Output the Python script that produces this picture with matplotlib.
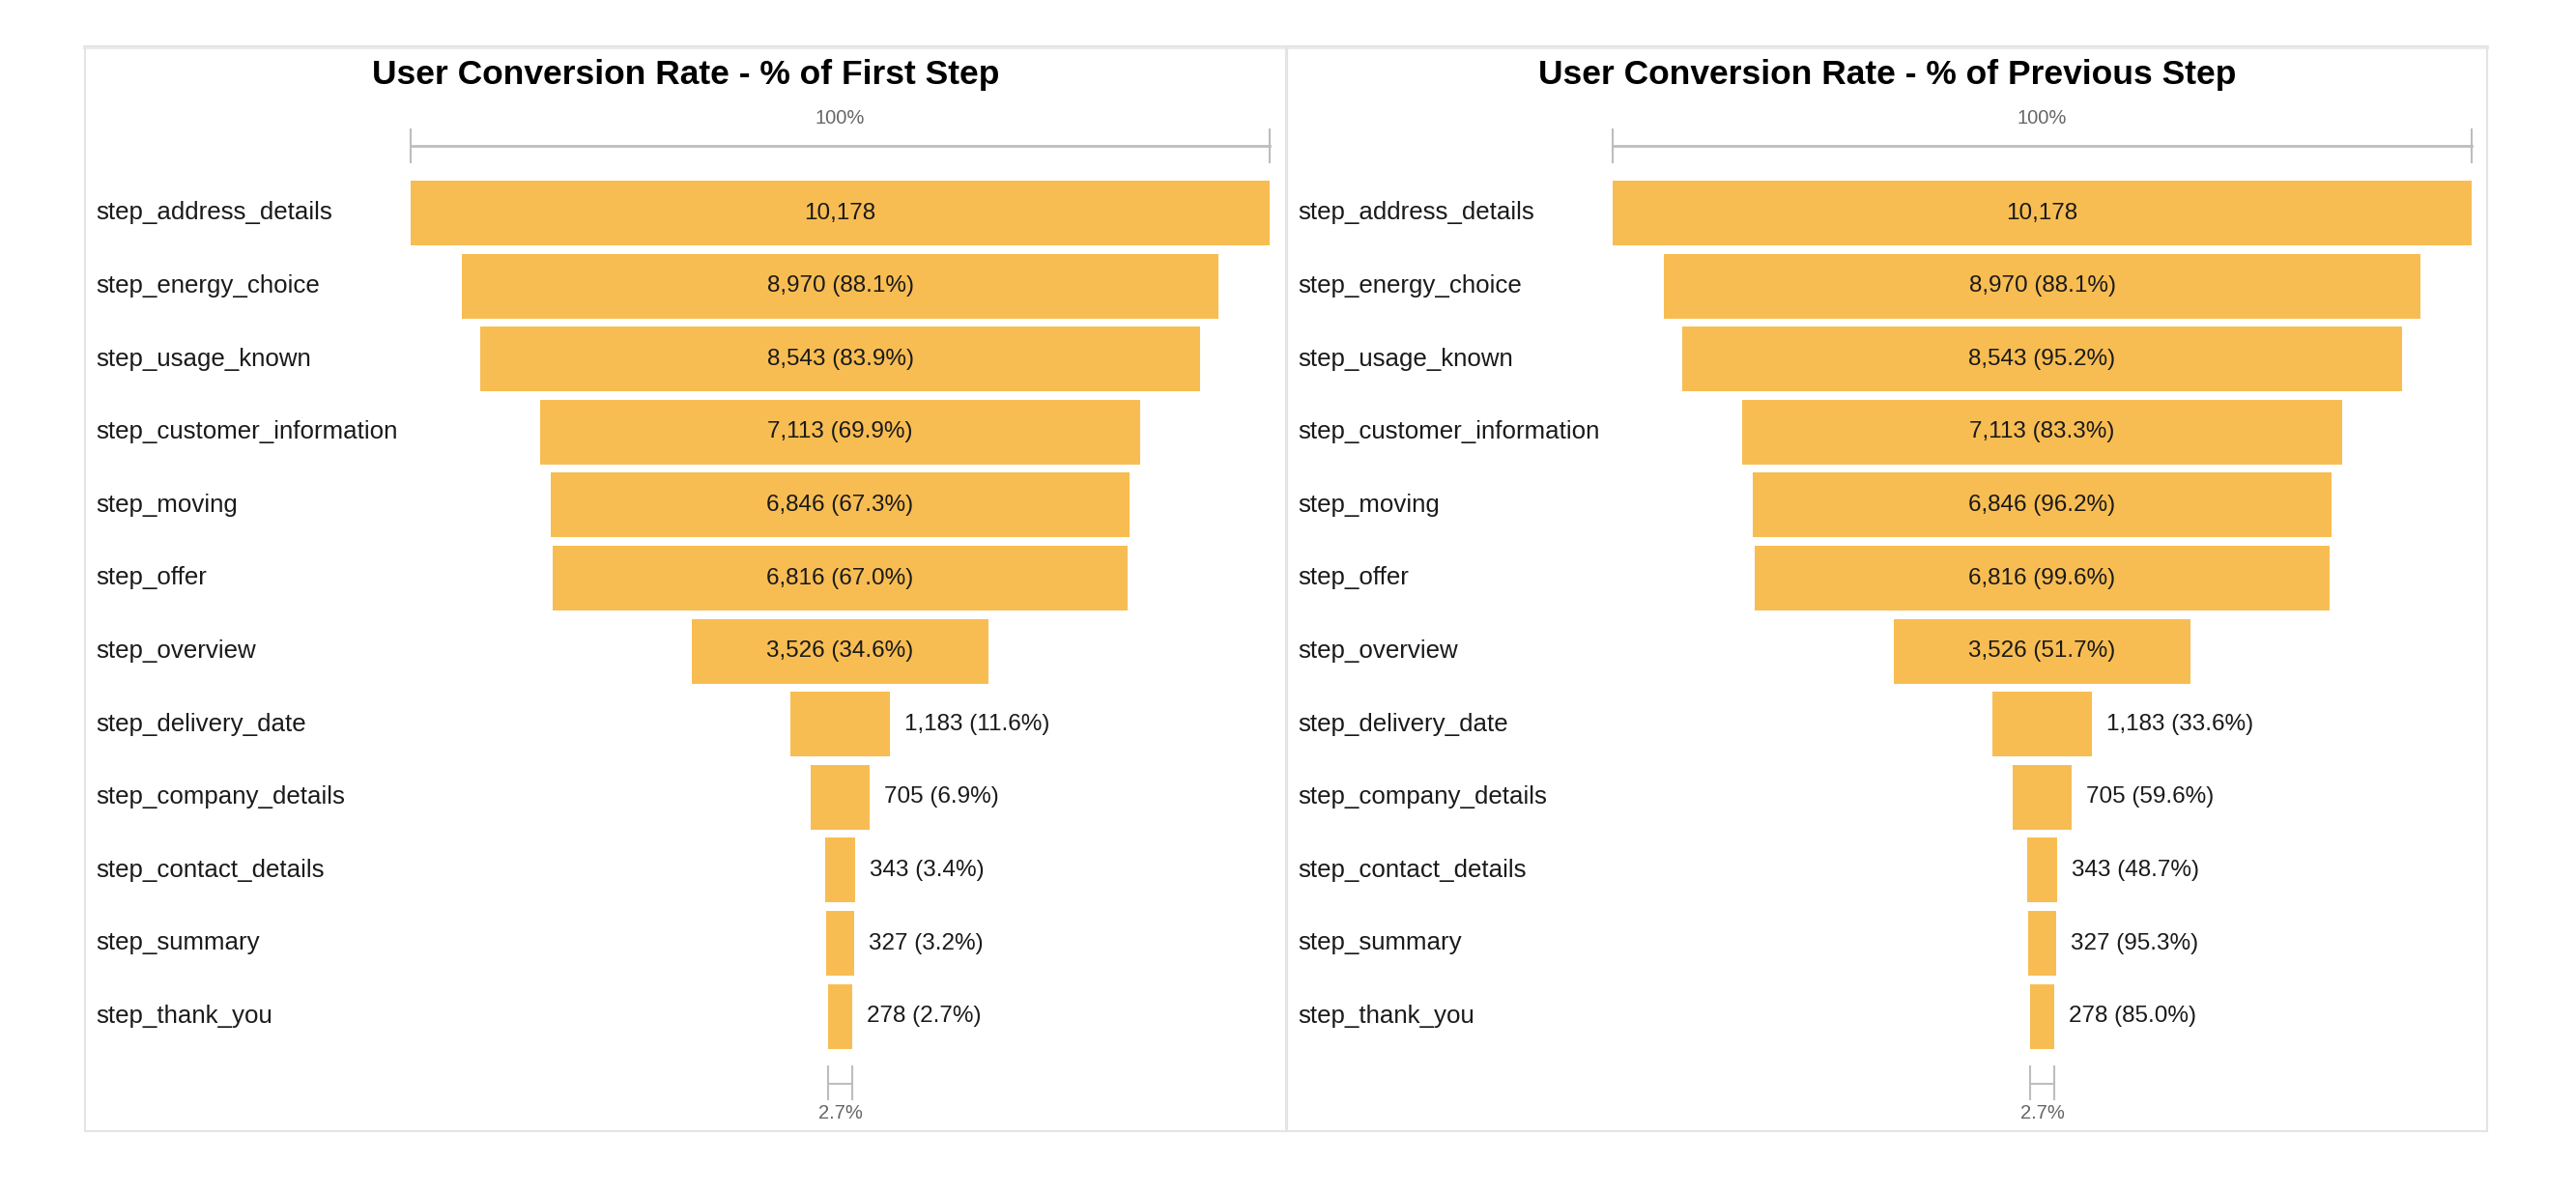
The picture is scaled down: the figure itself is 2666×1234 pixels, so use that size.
import matplotlib
matplotlib.use("Agg")
import matplotlib.pyplot as plt
from matplotlib.patches import Rectangle
from matplotlib.transforms import blended_transform_factory

plt.rcParams['font.family'] = ['Liberation Sans', 'DejaVu Sans']

steps = ["step_address_details", "step_energy_choice", "step_usage_known",
         "step_customer_information", "step_moving", "step_offer", "step_overview",
         "step_delivery_date", "step_company_details", "step_contact_details",
         "step_summary", "step_thank_you"]
counts = [10178, 8970, 8543, 7113, 6846, 6816, 3526, 1183, 705, 343, 327, 278]
pct_first = [100.0, 88.1, 83.9, 69.9, 67.3, 67.0, 34.6, 11.6, 6.9, 3.4, 3.2, 2.7]
pct_prev = [100.0, 88.1, 95.2, 83.3, 96.2, 99.6, 51.7, 33.6, 59.6, 48.7, 95.3, 85.0]
titles = ["User Conversion Rate - % of First Step", "User Conversion Rate - % of Previous Step"]

W, H = 2666, 1234
BAR = "#F8BD52"
fig = plt.figure(figsize=(W / 100, H / 100), dpi=100)
fig.patch.set_facecolor("white")

def fx(px):
    return px / W

def fy(py):
    return 1 - py / H

# pixel layout
y0, pitch = 220.5, 75.6
ax_top, ax_bot = 110, 1172
panels = [dict(frame=(88, 1331), bar=(425, 1314), label=99),
          dict(frame=(1332, 2574), bar=(1669, 2558), label=1343)]

def yi(py):
    return (py - y0) / pitch

for p, title, pcts in zip(panels, titles, [pct_first, pct_prev]):
    # panel frame
    fl, fr = p["frame"]
    fig.patches.append(Rectangle((fx(fl), fy(1171)), fx(fr - fl), (1171 - 48) / H,
                                 transform=fig.transFigure, fill=False,
                                 edgecolor="#e4e4e4", linewidth=1.5, zorder=0))
    fig.lines.append(plt.Line2D([fx(fl), fx(fr)], [fy(49), fy(49)], transform=fig.transFigure,
                                color="#ececec", linewidth=3, zorder=0))
    bl, br = p["bar"]
    ax = fig.add_axes([fx(bl), fy(ax_bot), fx(br - bl), (ax_bot - ax_top) / H])
    ax.set_xlim(0, 100)
    ax.set_ylim(yi(ax_bot), yi(ax_top))
    ax.axis("off")
    idx = list(range(len(steps)))
    lefts = [(100 - w) / 2 for w in pct_first]
    ax.barh(idx, pct_first, left=lefts, height=67 / pitch, color=BAR, edgecolor="none")
    trans = blended_transform_factory(fig.transFigure, ax.transData)
    for i, (s, c, pc) in enumerate(zip(steps, counts, pcts)):
        ax.text(fx(p["label"]), i, s, transform=trans, ha="left", va="center",
                fontsize=18.6, color="#1a1a1a")
        txt = f"{c:,}" if i == 0 else f"{c:,} ({pc:.1f}%)"
        if pct_first[i] > 25:
            ax.text(50, i, txt, ha="center", va="center", fontsize=17.5, color="#1a1a1a")
        else:
            ax.annotate(txt, (lefts[i] + pct_first[i], i), xytext=(15, 0),
                        textcoords="offset pixels", ha="left", va="center",
                        fontsize=17.5, color="#1a1a1a")
    # top bracket (100%)
    gray = "#bdbdbd"
    ax.plot([0, 100], [yi(151), yi(151)], color=gray, lw=2, clip_on=False)
    for xv in (0, 100):
        ax.plot([xv, xv], [yi(134), yi(168)], color=gray, lw=1.5, clip_on=False)
    ax.text(50, yi(123), f"{pct_first[0]:.0f}%", ha="center", va="center",
            fontsize=14.5, color="#666666", clip_on=False)
    # bottom bracket (last step)
    lw_ = pct_first[-1]
    la, lb = (100 - lw_) / 2, (100 + lw_) / 2
    ax.plot([la, lb], [yi(1122), yi(1122)], color=gray, lw=1.5, clip_on=False)
    for xv in (la, lb):
        ax.plot([xv, xv], [yi(1104), yi(1138)], color=gray, lw=1.5, clip_on=False)
    ax.text(50, yi(1152), f"{lw_:.1f}%", ha="center", va="center",
            fontsize=14.5, color="#666666", clip_on=False)
    # title
    cx = (fl + fr) / 2
    fig.text(fx(cx), fy(78), title, ha="center", va="center", fontsize=25.5,
             fontweight="bold", color="#000000")

fig.savefig("out.png", dpi=100, facecolor="white")
